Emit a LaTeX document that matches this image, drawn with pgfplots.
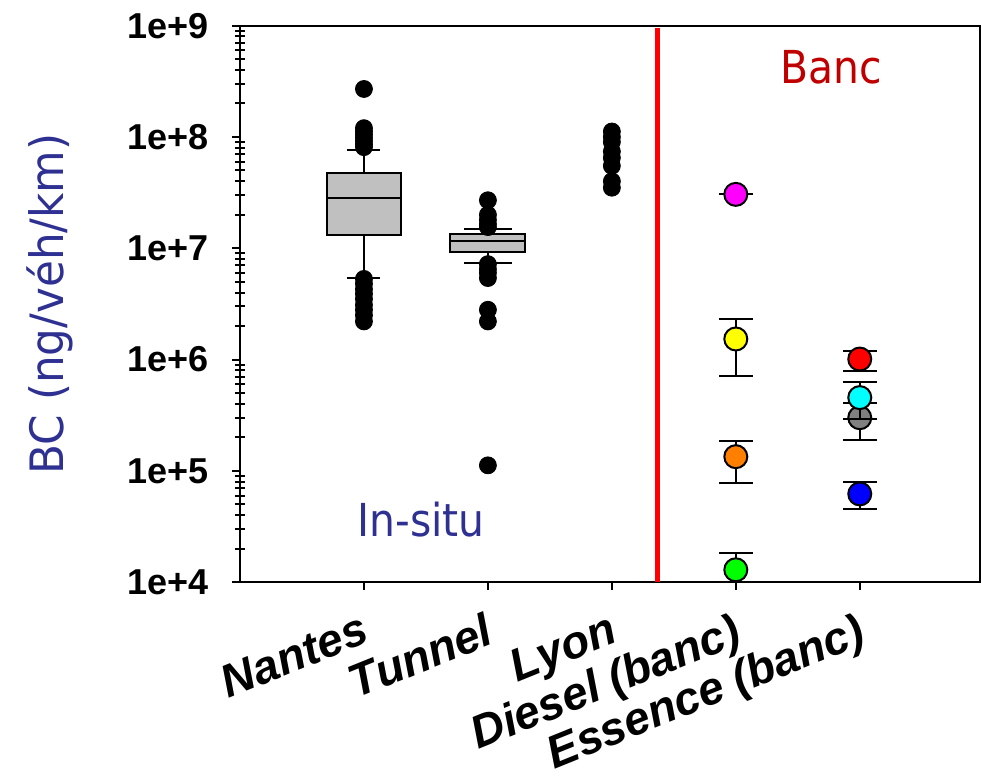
\documentclass[border=0pt]{standalone}
\usepackage{pgfplots}
\pgfplotsset{compat=1.18}
\usepackage{fontspec}
\setmainfont{Liberation Sans}
\newfontfamily\tah[FakeStretch=0.9]{DejaVu Sans}
\newfontfamily\tahy[FakeStretch=0.95]{DejaVu Sans}
\definecolor{navy}{RGB}{46,49,146}
\definecolor{bancred}{RGB}{192,0,0}
\definecolor{boxgray}{RGB}{192,192,192}
\definecolor{ptorange}{RGB}{255,128,0}
\definecolor{ptgray}{RGB}{128,128,128}
\definecolor{ptmagenta}{RGB}{255,0,255}
\definecolor{ptyellow}{RGB}{255,255,0}
\definecolor{ptgreen}{RGB}{0,255,0}
\definecolor{ptred}{RGB}{255,0,0}
\definecolor{ptcyan}{RGB}{0,255,255}
\definecolor{ptblue}{RGB}{0,0,255}
\begin{document}
\begin{tikzpicture}
\begin{axis}[
  scale only axis, width=370bp, height=278.2bp,
  xmin=0, xmax=5.97, ymode=log, ymin=1e4, ymax=1e9,
  axis line style={line width=1bp},
  tick style={line width=1bp, black},
  tick align=outside, tick pos=left,
  major tick length=4bp, minor tick length=5bp,
  minor y tick style={xshift=2.5bp},
  xtick={1,2,3,4,5},
  xticklabels={Nantes,Tunnel,Lyon,Diesel (banc),Essence (banc)},
  xticklabel shift=0pt,
  xticklabel style={font=\bfseries\itshape\fontsize{23bp}{27bp}\selectfont, rotate=22, anchor=north east, inner sep=0pt, xshift=-6bp, yshift=-9bp},
  ytick={1e4,1e5,1e6,1e7,1e8,1e9},
  yticklabels={1e+4,1e+5,1e+6,1e+7,1e+8,1e+9},
  minor ytick={2e4,3e4,4e4,5e4,6e4,7e4,8e4,9e4,2e5,3e5,4e5,5e5,6e5,7e5,8e5,9e5,2e6,3e6,4e6,5e6,6e6,7e6,8e6,9e6,2e7,3e7,4e7,5e7,6e7,7e7,8e7,9e7,2e8,3e8,4e8,5e8,6e8,7e8,8e8,9e8},
  yticklabel style={font=\bfseries\fontsize{18bp}{21bp}\selectfont, xshift=-8bp},
  ylabel={BC (ng/véh/km)},
  ylabel style={font=\tahy\fontsize{23bp}{27bp}\selectfont, text=navy, at={(axis description cs:-0.2386,0.5)}, anchor=base},
  clip mode=individual,
]
% Nantes whiskers
\addplot[black, line width=1bp] coordinates {(1,5.43e6) (1,7.7e7)};
\addplot[black, line width=1bp] coordinates {(0.867,7.7e7) (1.133,7.7e7)};
\addplot[black, line width=1bp] coordinates {(0.867,5.43e6) (1.133,5.43e6)};
% Nantes box
\addplot[draw=black, fill=boxgray, line width=1bp] coordinates {(0.698,1.32e7) (1.302,1.32e7) (1.302,4.76e7) (0.698,4.76e7)} -- cycle;
\addplot[black, line width=1bp] coordinates {(0.698,2.84e7) (1.302,2.84e7)};
% Tunnel whiskers
\addplot[black, line width=1bp] coordinates {(2,7.35e6) (2,1.5e7)};
\addplot[black, line width=1bp] coordinates {(1.806,1.5e7) (2.194,1.5e7)};
\addplot[black, line width=1bp] coordinates {(1.806,7.35e6) (2.194,7.35e6)};
% Tunnel box
\addplot[draw=black, fill=boxgray, line width=1bp] coordinates {(1.698,9.2e6) (2.302,9.2e6) (2.302,1.33e7) (1.698,1.33e7)} -- cycle;
\addplot[black, line width=1bp] coordinates {(1.698,1.15e7) (2.302,1.15e7)};
% outliers
\addplot[only marks, mark=*, mark size=4.25bp, black] coordinates {
 (1,2.7e8) (1,1.2e8) (1,1.12e8) (1,1.05e8) (1,9.8e7) (1,9.2e7) (1,8.6e7) (1,8.1e7)
 (1,5.3e6) (1,4.8e6) (1,4.3e6) (1,3.9e6) (1,3.5e6) (1,3.1e6) (1,2.8e6) (1,2.5e6) (1,2.2e6)};
\addplot[only marks, mark=*, mark size=4.25bp, black] coordinates {
 (2,2.7e7) (2,2.0e7) (2,1.8e7) (2,1.65e7) (2,1.55e7)
 (2,7.2e6) (2,6.5e6) (2,6.0e6) (2,5.4e6) (2,2.8e6) (2,2.2e6) (2,1.12e5)};
\addplot[only marks, mark=*, mark size=4.25bp, black] coordinates {
 (3,1.12e8) (3,1.0e8) (3,9.0e7) (3,7.4e7) (3,6.5e7) (3,5.5e7) (3,4.0e7) (3,3.5e7)};
% separator
\addplot[color=ptred, line width=2.6bp] coordinates {(3.37,1.0e4) (3.37,9.48e8)};
% bench points
\pgfplotsset{benchpt/.style={only marks, mark=*, mark size=5.75bp,
  mark options={draw=black, fill=#1, line width=1bp},
  error bars/.cd, y dir=both, y explicit,
  error bar style={draw=black, line width=1bp},
  error mark options={rotate=90, draw=black, line width=1bp, mark size=8.5bp}}}
\addplot[benchpt=ptmagenta] coordinates {(4,3.05e7) += (0,0) -= (0,0)};
\addplot[benchpt=ptyellow] coordinates {(4,1.53e6) += (0,7.9e5) -= (0,8.13e5)};
\addplot[benchpt=ptorange] coordinates {(4,1.34e5) += (0,5.2e4) -= (0,5.66e4)};
\addplot[benchpt=ptgreen] coordinates {(4,1.29e4) += (0,5.5e3) -= (0,4e3)};
\addplot[benchpt=ptred] coordinates {(5,1.01e6) += (0,1.8e5) -= (0,2.15e5)};
\addplot[benchpt=ptgray] coordinates {(5,3.0e5) += (0,1.1e5) -= (0,1.12e5)};
\addplot[benchpt=ptcyan] coordinates {(5,4.55e5) += (0,1.7e5) -= (0,1.64e5)};
\addplot[benchpt=ptblue] coordinates {(5,6.2e4) += (0,1.7e4) -= (0,1.68e4)};
% texts
\node[font=\tah\fontsize{22.7bp}{27bp}\selectfont, text=navy, anchor=base] at (axis cs:1.46,2.56e4) {In-situ};
\node[font=\tah\fontsize{22.7bp}{27bp}\selectfont, text=bancred, anchor=base] at (axis cs:4.766,3.04e8) {Banc};
\end{axis}
\pgfresetboundingbox
\path[use as bounding box] (-120bp,-99bp) rectangle (371bp,291.05bp);
\end{tikzpicture}
\end{document}
